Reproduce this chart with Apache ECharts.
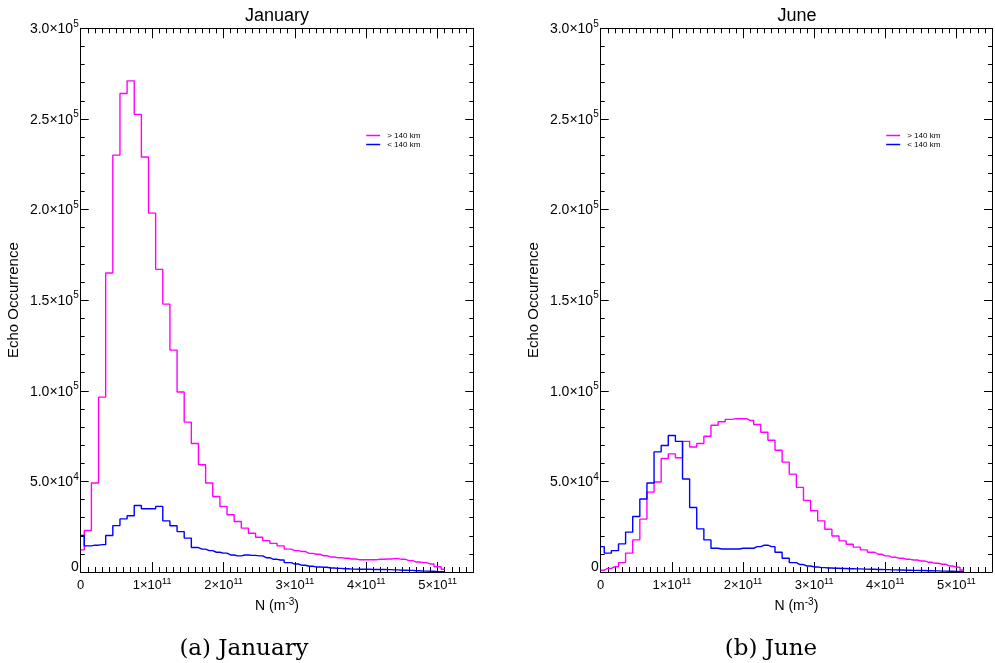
<!DOCTYPE html>
<html>
<head>
<meta charset="utf-8">
<script src="https://cdn.jsdelivr.net/npm/echarts@6/dist/echarts.min.js"></script>
<style>
  html, body { margin: 0; padding: 0; background: #ffffff; }
  #chart { width: 995px; height: 663px; }
</style>
</head>
<body>
<div id="chart"></div>
<script>
// Bin centres of the electron-density histogram, in m^-3
const binCentres = [
  0, 1e10, 2e10, 3e10, 4e10, 5e10, 6e10, 7e10, 8e10, 9e10,
  10e10, 11e10, 12e10, 13e10, 14e10, 15e10, 16e10, 17e10, 18e10, 19e10,
  20e10, 21e10, 22e10, 23e10, 24e10, 25e10, 26e10, 27e10, 28e10, 29e10,
  30e10, 31e10, 32e10, 33e10, 34e10, 35e10, 36e10, 37e10, 38e10, 39e10,
  40e10, 41e10, 42e10, 43e10, 44e10, 45e10, 46e10, 47e10, 48e10, 49e10,
  50e10, 51e10
];

// Echo counts per bin, January
const janAbove140 = [
  12200, 22900, 49100, 96500, 165000, 230000, 264000, 271000, 252500, 229000,
  198000, 167000, 147800, 122400, 99300, 82700, 70900, 59200, 49100, 41700,
  36200, 31600, 27900, 24200, 21400, 19200, 17300, 15800, 14400, 12600,
  11800, 11300, 10300, 9800, 9000, 8300, 7900, 7600, 7200, 6800,
  6800, 6800, 7000, 7200, 7400, 7000, 6300, 5500, 5200, 4400,
  2900, 1500
];
const janBelow140 = [
  20100, 14400, 14800, 15100, 20100, 25600, 29300, 31000, 36700, 34900,
  34900, 36200, 28200, 25500, 22300, 18700, 13500, 12600, 11800, 10900,
  10400, 9400, 8900, 9400, 9200, 8900, 7900, 7000, 6600, 5200,
  4400, 3700, 3200, 2800, 2600, 2200, 2000, 1800, 1600, 1500,
  1500, 1400, 1400, 1300, 1200, 1000, 900, 700, 500, 400,
  200, 100
];

// Echo counts per bin, June
const junAbove140 = [
  1000, 2000, 2900, 5200, 10400, 17700, 29200, 44100, 49700, 62600,
  65200, 63000, 72100, 69000, 70900, 74900, 81000, 82900, 84200, 84600,
  84600, 83600, 81400, 77100, 72700, 67200, 60600, 54000, 46700, 39500,
  33800, 28200, 23600, 19900, 17200, 15300, 13700, 12200, 10900, 9800,
  8900, 8100, 7600, 7000, 6600, 6100, 5400, 4800, 4300, 3300,
  2600, 1100
];
const junBelow140 = [
  14000, 10400, 11800, 15500, 22000, 30600, 40300, 49100, 66300, 69800,
  75300, 72100, 51300, 35600, 23800, 17700, 13100, 12700, 12700, 12700,
  13100, 13100, 14000, 14800, 14000, 10900, 7600, 5200, 4100, 3300,
  2800, 2400, 2200, 2100, 1900, 1800, 1700, 1600, 1500, 1400,
  1300, 1200, 1100, 1000, 900, 800, 700, 600, 500, 400,
  300, 200
];

// Axis ticks
const xMajorTicks = [0, 1e11, 2e11, 3e11, 4e11, 5e11];
const yMajorTicks = [0, 5e4, 1e5, 1.5e5, 2e5, 2.5e5, 3e5];

const panelTitles = ['January', 'June'];
const captions = ['(a) January', '(b) June'];
const seriesNames = ['> 140 km', '< 140 km'];

const MAGENTA = '#ff00ff';
const BLUE = '#0000ff';
const FONT = 'Liberation Sans, Arial, sans-serif';

const panelLeft = [80.7, 600.7];
const captionCentre = [244, 771];
const panelTop = 28.3;
const panelWidth = 392.6;
const panelHeight = 543.7;
const X_MAX = 5.5e11;
const Y_MAX = 3e5;

const xSup = { fontSize: 9, fontFamily: FONT, color: '#000', padding: [0, 0, 8, 0] };
const xBaseText = { fontSize: 13, fontFamily: FONT, color: '#000' };
const ySup = { fontSize: 10, fontFamily: FONT, color: '#000', padding: [0, 0, 9, 0] };
const yBaseText = { fontSize: 14, fontFamily: FONT, color: '#000', padding: [2, 0, 0, 0] };

function xLabel(v) {
  if (!xMajorTicks.includes(v)) return '';
  if (v === 0) return '{b|0}{s|\u200b}';
  return '{b|' + Math.round(v / 1e11) + '\u00d710}{s|11}';
}
function yLabel(v) {
  if (!yMajorTicks.includes(v)) return '';
  if (v === 0) return '{z|0}';
  const e = Math.floor(Math.log10(v) + 1e-9);
  const m = v / Math.pow(10, e);
  return '{b|' + m.toFixed(1) + '\u00d710}{s|' + e + '}';
}

function pairData(ys) {
  return binCentres.map((x, i) => [x, ys[i]]);
}

const grids = [], xAxes = [], yAxes = [], series = [], titles = [], legends = [];

const panels = [
  [janAbove140, janBelow140],
  [junAbove140, junBelow140]
];

panels.forEach((pair, g) => {
  grids.push({ left: panelLeft[g], top: panelTop, width: panelWidth, height: panelHeight, containLabel: false });

  const xBase = { gridIndex: g, type: 'value', min: 0, max: X_MAX, splitLine: { show: false } };
  const xIdx = xAxes.length;
  // bottom axis, major ticks and labels
  xAxes.push(Object.assign({}, xBase, {
    position: 'bottom', interval: 1e11,
    axisLine: { show: true, onZero: false, lineStyle: { color: '#000', width: 1 } },
    axisTick: { show: true, inside: true, length: 10, lineStyle: { color: '#000', width: 1 } },
    axisLabel: { show: true, margin: 5, formatter: xLabel, rich: { b: xBaseText, s: xSup }, showMinLabel: true, showMaxLabel: true, hideOverlap: false },
    name: 'N (m{s|-3})', nameLocation: 'middle', nameGap: 21,
    nameTextStyle: { fontSize: 14, fontFamily: FONT, color: '#000', rich: { s: { fontSize: 10, fontFamily: FONT, color: '#000', padding: [0, 0, 8, 0] } } }
  }));
  // bottom axis, minor ticks
  xAxes.push(Object.assign({}, xBase, {
    position: 'bottom', interval: 1e10,
    axisLine: { show: false, onZero: false },
    axisTick: { show: true, inside: true, length: 5, lineStyle: { color: '#000', width: 1 } },
    axisLabel: { show: false }
  }));
  // top axis, major ticks
  xAxes.push(Object.assign({}, xBase, {
    position: 'top', interval: 1e11,
    axisLine: { show: true, onZero: false, lineStyle: { color: '#000', width: 1 } },
    axisTick: { show: true, inside: true, length: 10, lineStyle: { color: '#000', width: 1 } },
    axisLabel: { show: false }
  }));
  // top axis, minor ticks
  xAxes.push(Object.assign({}, xBase, {
    position: 'top', interval: 1e10,
    axisLine: { show: false, onZero: false },
    axisTick: { show: true, inside: true, length: 5, lineStyle: { color: '#000', width: 1 } },
    axisLabel: { show: false }
  }));

  const yBase = { gridIndex: g, type: 'value', min: 0, max: Y_MAX, splitLine: { show: false } };
  const yIdx = yAxes.length;
  yAxes.push(Object.assign({}, yBase, {
    position: 'left', interval: 5e4,
    axisLine: { show: true, onZero: false, lineStyle: { color: '#000', width: 1 } },
    axisTick: { show: true, inside: true, length: 8, lineStyle: { color: '#000', width: 1 } },
    axisLabel: {
      show: true, margin: 2, formatter: yLabel, showMinLabel: true, showMaxLabel: true, hideOverlap: false,
      rich: { b: yBaseText, s: ySup, z: { fontSize: 14, fontFamily: FONT, color: '#000', padding: [0, 0, 10, 0] } }
    },
    name: 'Echo Occurrence', nameLocation: 'middle', nameGap: 59,
    nameTextStyle: { fontSize: 15, fontFamily: FONT, color: '#000' }
  }));
  yAxes.push(Object.assign({}, yBase, {
    position: 'left', interval: 1e4,
    axisLine: { show: false, onZero: false },
    axisTick: { show: true, inside: true, length: 4, lineStyle: { color: '#000', width: 1 } },
    axisLabel: { show: false }
  }));
  yAxes.push(Object.assign({}, yBase, {
    position: 'right', interval: 5e4,
    axisLine: { show: true, onZero: false, lineStyle: { color: '#000', width: 1 } },
    axisTick: { show: true, inside: true, length: 8, lineStyle: { color: '#000', width: 1 } },
    axisLabel: { show: false }
  }));
  yAxes.push(Object.assign({}, yBase, {
    position: 'right', interval: 1e4,
    axisLine: { show: false, onZero: false },
    axisTick: { show: true, inside: true, length: 4, lineStyle: { color: '#000', width: 1 } },
    axisLabel: { show: false }
  }));

  [MAGENTA, BLUE].forEach((c, s) => {
    series.push({
      type: 'line', name: seriesNames[s], xAxisIndex: xIdx, yAxisIndex: yIdx,
      step: 'middle', showSymbol: false, symbol: 'none', data: pairData(pair[s]),
      color: c, lineStyle: { color: c, width: 1.4 }, z: s === 0 ? 3 : 4
    });
  });

  const centre = panelLeft[g] + panelWidth / 2;
  titles.push({
    text: panelTitles[g], left: centre, top: 7, textAlign: 'center', padding: 0,
    textStyle: { fontSize: 18, fontWeight: 'normal', fontFamily: FONT, color: '#000' }
  });
  titles.push({
    text: captions[g], left: captionCentre[g], top: 638, textAlign: 'center', padding: 0,
    textStyle: { fontSize: 23, fontWeight: 'normal', fontFamily: 'DejaVu Serif, Liberation Serif, serif', color: '#000' }
  });

  legends.push({
    data: seriesNames, orient: 'vertical', left: panelLeft[g] + 285.5, top: 131,
    padding: 0, itemGap: 0, itemWidth: 14, itemHeight: 1.5, icon: 'rect',
    selectedMode: false,
    textStyle: { fontSize: 8, lineHeight: 9, fontFamily: FONT, color: '#000', padding: [0, 0, 0, 2] }
  });
});

const chart = echarts.init(document.getElementById('chart'), null, { renderer: 'canvas' });
chart.setOption({
  animation: false,
  backgroundColor: '#ffffff',
  title: titles,
  legend: legends,
  grid: grids,
  xAxis: xAxes,
  yAxis: yAxes,
  series: series
});
</script>
</body>
</html>
